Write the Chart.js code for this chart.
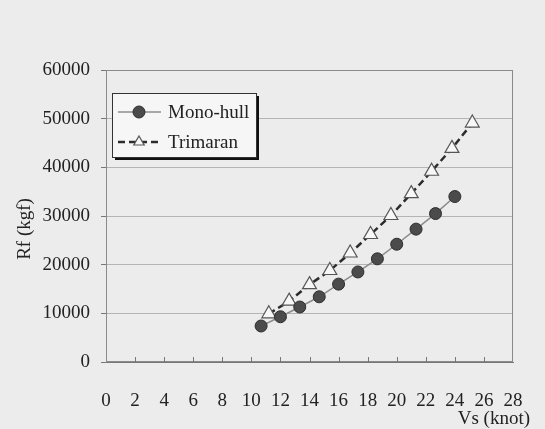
<!DOCTYPE html>
<html>
<head>
<meta charset="UTF-8">
<title>Rf vs Vs</title>
<script src="https://cdn.jsdelivr.net/npm/chart.js@4.4.0/dist/chart.umd.min.js"></script>
<style>
    body { margin: 0; background: #ececec; }
    #wrap { width: 545px; height: 429px; }
</style>
</head>
<body>
<div id="wrap"><canvas id="chart" width="545" height="429"></canvas></div>
<script>
    // values
    var monoSpeed = [10.67, 12, 13.33, 14.67, 16, 17.33, 18.67, 20, 21.33, 22.67, 24];
    var monoRf = [7400, 9300, 11300, 13400, 16000, 18500, 21200, 24200, 27300, 30500, 34000];
    var triSpeed = [11.2, 12.6, 14, 15.4, 16.8, 18.2, 19.6, 21, 22.4, 23.8, 25.2];
    var triRf = [9900, 12500, 15900, 18800, 22400, 26200, 30100, 34600, 39200, 43900, 49100];
    var seriesNames = ['Mono-hull', 'Trimaran'];
    var xTitle = 'Vs (knot)';
    var yTitle = 'Rf (kgf)';

    var FONT = "'Liberation Serif', 'Times New Roman', serif";
    var TEXT = '#222';

    function points(xs, ys) {
        return xs.map(function (x, i) { return { x: x, y: ys[i] }; });
    }

    var extras = {
        id: 'extras',
        beforeDraw: function (chart) {
            var ctx = chart.ctx;
            ctx.save();
            ctx.fillStyle = '#ececec';
            ctx.fillRect(0, 0, chart.width, chart.height);
            ctx.restore();
        },
        beforeDatasetsDraw: function (chart) {
            var ctx = chart.ctx, a = chart.chartArea, xs = chart.scales.x;
            ctx.save();
            ctx.strokeStyle = '#8a8a8a';
            ctx.lineWidth = 1;
            ctx.strokeRect(Math.round(a.left) + 0.5, Math.round(a.top) + 0.5,
                Math.round(a.right - a.left) - 1, Math.round(a.bottom - a.top) - 1);
            // inward tick marks on the x axis
            ctx.strokeStyle = '#777';
            for (var v = 2; v < 28; v += 2) {
                var px = Math.round(xs.getPixelForValue(v)) + 0.5;
                ctx.beginPath();
                ctx.moveTo(px, a.bottom);
                ctx.lineTo(px, a.bottom - 5);
                ctx.stroke();
            }
            ctx.restore();
        },
        afterDraw: function (chart) {
            var ctx = chart.ctx;
            ctx.save();
            ctx.fillStyle = TEXT;
            ctx.font = '19px ' + FONT;
            ctx.textBaseline = 'middle';

            // axis titles
            ctx.textAlign = 'right';
            ctx.fillText(xTitle, 530, 419);
            ctx.save();
            ctx.translate(25, 229);
            ctx.rotate(-Math.PI / 2);
            ctx.textAlign = 'center';
            ctx.fillText(yTitle, 0, 0);
            ctx.restore();

            // legend box with shadow
            var bx = 112, by = 93, bw = 144, bh = 64;
            ctx.fillStyle = '#111';
            ctx.fillRect(bx + 3, by + 3, bw, bh);
            ctx.fillStyle = '#f6f6f6';
            ctx.fillRect(bx, by, bw, bh);
            ctx.strokeStyle = '#333';
            ctx.lineWidth = 1;
            ctx.strokeRect(bx + 0.5, by + 0.5, bw, bh);

            var ds = chart.data.datasets;
            var rows = [112, 142];
            for (var i = 0; i < ds.length; i++) {
                var d = ds[i], y = rows[i];
                ctx.save();
                ctx.strokeStyle = d.borderColor;
                ctx.lineWidth = d.borderWidth;
                ctx.setLineDash(d.borderDash || []);
                ctx.beginPath();
                ctx.moveTo(118, y);
                ctx.lineTo(161, y);
                ctx.stroke();
                ctx.setLineDash([]);
                ctx.fillStyle = d.pointBackgroundColor;
                ctx.strokeStyle = d.pointBorderColor;
                ctx.lineWidth = d.pointBorderWidth;
                ctx.beginPath();
                if (d.pointStyle === 'triangle') {
                    var r = 6;
                    ctx.moveTo(139, y - r);
                    ctx.lineTo(139 + r * 0.866, y + r / 2);
                    ctx.lineTo(139 - r * 0.866, y + r / 2);
                    ctx.closePath();
                } else {
                    ctx.arc(139, y, d.pointRadius, 0, Math.PI * 2);
                }
                ctx.fill();
                ctx.stroke();
                ctx.restore();
                ctx.fillStyle = TEXT;
                ctx.textAlign = 'left';
                ctx.fillText(seriesNames[i], 168, y + 1);
            }
            ctx.restore();
        }
    };

    var chart = new Chart(document.getElementById('chart'), {
        type: 'scatter',
        data: {
            datasets: [{
                label: seriesNames[0],
                data: points(monoSpeed, monoRf),
                showLine: true,
                borderColor: '#8c8c8c',
                borderWidth: 1.5,
                pointStyle: 'circle',
                pointRadius: 6,
                pointBackgroundColor: '#4b4b4b',
                pointBorderColor: '#2e2e2e',
                pointBorderWidth: 1
            }, {
                label: seriesNames[1],
                data: points(triSpeed, triRf),
                showLine: true,
                borderColor: '#2c2c2c',
                borderWidth: 2.5,
                borderDash: [7, 4],
                pointStyle: 'triangle',
                pointRadius: 8,
                pointBackgroundColor: '#f7f7f7',
                pointBorderColor: '#555',
                pointBorderWidth: 1.2
            }]
        },
        options: {
            responsive: false,
            animation: false,
            layout: { padding: { top: 70, right: 32, left: 0, bottom: 0 } },
            plugins: {
                legend: { display: false },
                tooltip: { enabled: false }
            },
            scales: {
                x: {
                    type: 'linear',
                    min: 0,
                    max: 28,
                    ticks: { stepSize: 2, color: TEXT, font: { family: FONT, size: 19 }, padding: 28, maxRotation: 0 },
                    grid: { drawOnChartArea: false, drawTicks: false },
                    border: { color: '#777' },
                    afterFit: function (s) {
                        s.height = 67;
                        s.paddingLeft = 0;
                        s.paddingRight = 0;
                    }
                },
                y: {
                    min: 0,
                    max: 60000,
                    ticks: {
                        stepSize: 10000, color: TEXT, font: { family: FONT, size: 19 }, padding: 11,
                        callback: function (v) { return String(v); }
                    },
                    grid: { color: '#b4b4b4', tickLength: 5, tickColor: '#777' },
                    border: { color: '#888' },
                    afterFit: function (s) { s.width = 106; }
                }
            }
        },
        plugins: [extras]
    });
</script>
</body>
</html>
